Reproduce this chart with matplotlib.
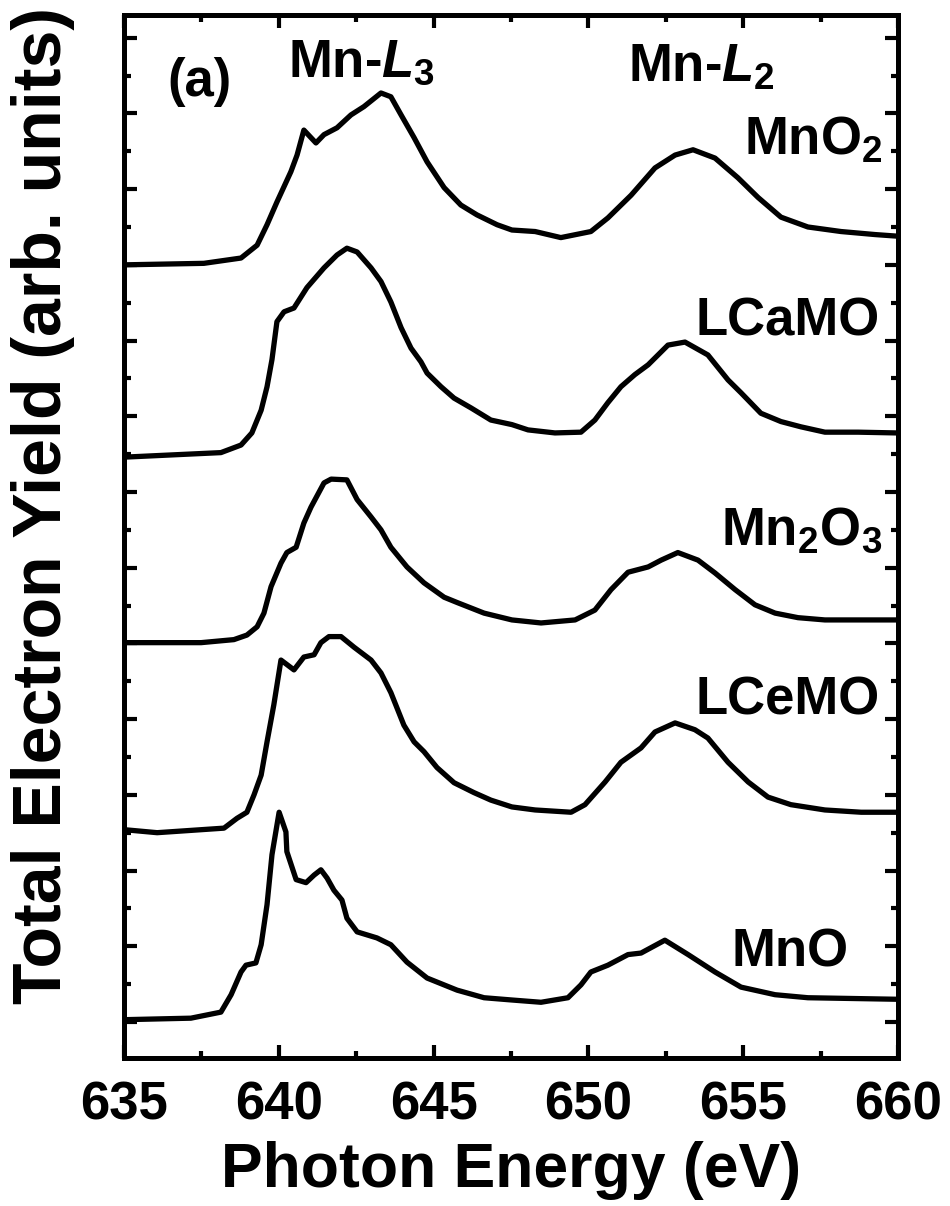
import numpy as np
import matplotlib
matplotlib.use("Agg")
import matplotlib.pyplot as plt
from matplotlib.ticker import MultipleLocator, NullFormatter

plt.rcParams["font.family"] = "Liberation Sans"
plt.rcParams["font.weight"] = "bold"
plt.rcParams["mathtext.fontset"] = "custom"
plt.rcParams["mathtext.rm"] = "Liberation Sans:bold"
plt.rcParams["mathtext.it"] = "Liberation Sans:bold:italic"
plt.rcParams["mathtext.bf"] = "Liberation Sans:bold"

# spectra (eV, stacked intensity in arb. units)
e_mno2 = [635.0, 637.58, 638.78, 639.30, 639.62, 639.94, 640.39, 640.59, 640.81, 641.20,
          641.46, 641.88, 642.33, 642.75, 643.30, 643.62, 643.95, 644.37, 644.79, 645.34,
          645.88, 646.40, 647.05, 647.53, 648.28, 649.11, 650.08, 650.63, 651.38, 652.15,
          652.80, 653.38, 654.09, 654.83, 655.48, 656.22, 657.09, 658.16, 659.26, 659.94]
i_mno2 = [10.00, 10.02, 10.09, 10.26, 10.53, 10.83, 11.23, 11.45, 11.78, 11.61,
          11.72, 11.81, 11.98, 12.09, 12.27, 12.22, 11.98, 11.68, 11.36, 11.02,
          10.79, 10.66, 10.53, 10.46, 10.44, 10.36, 10.44, 10.62, 10.92, 11.28,
          11.45, 11.52, 11.41, 11.15, 10.89, 10.63, 10.50, 10.44, 10.40, 10.38]

e_lcamo = [635.0, 638.13, 638.78, 639.13, 639.43, 639.62, 639.78, 639.94, 640.17, 640.49,
           640.91, 641.46, 641.88, 642.20, 642.53, 642.98, 643.30, 643.62, 643.95, 644.27,
           644.59, 644.79, 645.24, 645.66, 646.21, 646.85, 647.53, 648.05, 648.92, 649.76,
           650.21, 650.63, 651.05, 651.50, 651.93, 652.57, 653.12, 653.86, 654.51, 654.93,
           655.57, 656.22, 656.87, 657.64, 658.71, 659.94]
i_lcamo = [7.46, 7.52, 7.62, 7.78, 8.08, 8.39, 8.75, 9.25, 9.38, 9.43,
           9.70, 9.96, 10.13, 10.22, 10.17, 9.96, 9.78, 9.51, 9.17, 8.90,
           8.72, 8.57, 8.39, 8.24, 8.11, 7.95, 7.89, 7.82, 7.78, 7.79,
           7.95, 8.18, 8.39, 8.55, 8.68, 8.94, 8.98, 8.81, 8.48, 8.31,
           8.04, 7.93, 7.86, 7.79, 7.79, 7.78]

e_mn2o3 = [635.0, 637.49, 638.55, 638.97, 639.30, 639.52, 639.75, 640.07, 640.26, 640.56,
           640.81, 641.04, 641.46, 641.69, 642.20, 642.53, 642.98, 643.30, 643.62, 644.14,
           644.69, 645.34, 645.76, 646.63, 647.53, 648.47, 649.57, 650.21, 650.73, 651.28,
           651.93, 652.35, 652.89, 653.54, 654.09, 654.74, 655.38, 656.03, 656.77, 657.64,
           658.71, 659.94]
i_mn2o3 = [5.01, 5.01, 5.05, 5.11, 5.22, 5.40, 5.75, 6.06, 6.20, 6.27,
           6.59, 6.80, 7.12, 7.17, 7.16, 6.90, 6.67, 6.50, 6.27, 6.01,
           5.80, 5.61, 5.54, 5.40, 5.31, 5.27, 5.31, 5.44, 5.71, 5.94,
           6.01, 6.10, 6.20, 6.10, 5.93, 5.71, 5.51, 5.40, 5.34, 5.31,
           5.31, 5.31]

e_lcemo = [635.0, 636.07, 638.23, 638.65, 638.97, 639.20, 639.43, 639.62, 639.84, 640.07,
           640.49, 640.81, 641.14, 641.36, 641.62, 642.01, 642.43, 642.98, 643.30, 643.62,
           644.04, 644.37, 644.69, 645.11, 645.66, 646.30, 646.85, 647.53, 648.28, 649.44,
           649.89, 650.54, 651.05, 651.70, 652.15, 652.80, 653.44, 653.86, 654.51, 655.16,
           655.80, 656.54, 657.64, 658.81, 659.94]
i_lcemo = [2.54, 2.50, 2.56, 2.69, 2.77, 3.00, 3.26, 3.70, 4.19, 4.78,
           4.65, 4.82, 4.85, 5.01, 5.09, 5.09, 4.95, 4.78, 4.61, 4.35,
           3.92, 3.70, 3.57, 3.36, 3.16, 3.03, 2.93, 2.84, 2.80, 2.77,
           2.87, 3.17, 3.43, 3.62, 3.83, 3.95, 3.86, 3.75, 3.43, 3.17,
           2.97, 2.87, 2.80, 2.77, 2.77]

e_mno = [635.0, 637.16, 638.13, 638.46, 638.78, 638.94, 639.26, 639.43, 639.62, 639.78,
         640.01, 640.23, 640.26, 640.56, 640.88, 641.14, 641.36, 641.56, 641.78, 642.04,
         642.20, 642.53, 643.17, 643.62, 644.14, 644.79, 645.76, 646.63, 647.53, 648.47,
         649.34, 649.76, 650.08, 650.63, 651.28, 651.70, 652.47, 653.22, 654.09, 654.93,
         656.03, 657.09, 659.94]
i_mno = [0.03, 0.05, 0.13, 0.36, 0.66, 0.75, 0.78, 1.02, 1.55, 2.21,
         2.77, 2.51, 2.25, 1.88, 1.84, 1.94, 2.01, 1.90, 1.74, 1.61,
         1.37, 1.19, 1.11, 1.02, 0.79, 0.58, 0.42, 0.32, 0.29, 0.26,
         0.32, 0.49, 0.66, 0.75, 0.89, 0.91, 1.08, 0.89, 0.66, 0.46,
         0.36, 0.32, 0.30]

names = ["MnO$_2$", "LCaMO", "Mn$_2$O$_3$", "LCeMO", "MnO"]
label_x = [659.5, 659.4, 659.5, 659.4, 658.4]
label_y = [11.45, 9.07, 6.30, 4.06, 0.73]

fig = plt.figure(figsize=(9.5, 12.06), dpi=100)
ax = fig.add_axes([124 / 950, 1 - 1058 / 1206, 774 / 950, 1043 / 1206])

for e, i in [(e_mno2, i_mno2), (e_lcamo, i_lcamo), (e_mn2o3, i_mn2o3),
             (e_lcemo, i_lcemo), (e_mno, i_mno)]:
    ax.plot(e, i, color="black", lw=3.8, solid_joinstyle="round")

for name, x, y in zip(names, label_x, label_y):
    ax.text(x, y, name, ha="right", va="baseline", fontsize=38, fontweight="bold")

ax.text(637.45, 12.42, "(a)", ha="center", va="center", fontsize=38, fontweight="bold")
ax.text(640.3, 12.48, r"Mn-$\mathit{L}_3$", ha="left", va="baseline", fontsize=38,
        fontweight="bold")
ax.text(651.28, 12.42, r"Mn-$\mathit{L}_2$", ha="left", va="baseline", fontsize=38,
        fontweight="bold")

ax.set_xlim(635, 660)
ax.set_ylim(-0.476, 13.30)
ax.xaxis.set_major_locator(MultipleLocator(5))
ax.xaxis.set_minor_locator(MultipleLocator(2.5))
ax.yaxis.set_major_locator(MultipleLocator(1))
ax.yaxis.set_minor_locator(MultipleLocator(0.5))
ax.yaxis.set_major_formatter(NullFormatter())
ax.tick_params(which="both", direction="in", top=True, right=True, width=3)
ax.tick_params(which="major", length=9.5, labelsize=38, pad=16)
ax.tick_params(which="minor", length=5)
for s in ax.spines.values():
    s.set_linewidth(3.6)

ax.set_xlabel("Photon Energy (eV)", fontsize=45, fontweight="bold", labelpad=8)
ax.set_ylabel("Total Electron Yield (arb. units)", fontsize=49, fontweight="bold")
ax.yaxis.set_label_coords(-0.063, 0.53)

fig.savefig("out.png", dpi=100)
